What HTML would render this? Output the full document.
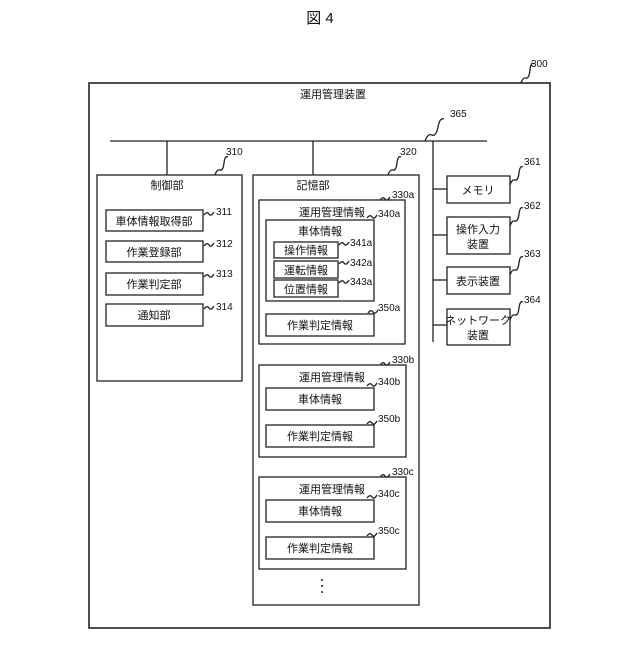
<!DOCTYPE html>
<html><head><meta charset="utf-8"><style>
body{margin:0;background:#fff}
svg text{font-family:"Liberation Sans","Noto Sans CJK JP",sans-serif;fill:#111}
.t{font-size:11px;text-anchor:middle}
.l{font-size:10px}
</style></head><body>
<svg width="640" height="640" viewBox="0 0 640 640" xmlns="http://www.w3.org/2000/svg">
<g fill="none" stroke="#222" stroke-width="1.3">
<rect x="89" y="83" width="461" height="545" stroke-width="1.6"/>
<line x1="110" y1="141" x2="487" y2="141"/>
<line x1="167" y1="141" x2="167" y2="175"/>
<line x1="313" y1="141" x2="313" y2="175"/>
<line x1="433" y1="141" x2="433" y2="342"/>
<line x1="433" y1="189" x2="447" y2="189"/>
<line x1="433" y1="235" x2="447" y2="235"/>
<line x1="433" y1="280" x2="447" y2="280"/>
<line x1="433" y1="325" x2="447" y2="325"/>
<rect x="97" y="175" width="145" height="206"/>
<rect x="253" y="175" width="166" height="430"/>
<rect x="106" y="210" width="97" height="21"/>
<rect x="106" y="241" width="97" height="21"/>
<rect x="106" y="273" width="97" height="22"/>
<rect x="106" y="304" width="97" height="22"/>
<rect x="447" y="176" width="63" height="27"/>
<rect x="447" y="217" width="63" height="37"/>
<rect x="447" y="267" width="63" height="27"/>
<rect x="447" y="309" width="63" height="36"/>
<rect x="259" y="200" width="146" height="144"/>
<rect x="266" y="220" width="108" height="81"/>
<rect x="274" y="242" width="64" height="16"/>
<rect x="274" y="261" width="64" height="17"/>
<rect x="274" y="280" width="64" height="17"/>
<rect x="266" y="314" width="108" height="22"/>
<rect x="259" y="365" width="147" height="92"/>
<rect x="266" y="388" width="108" height="22"/>
<rect x="266" y="425" width="108" height="22"/>
<rect x="259" y="477" width="147" height="92"/>
<rect x="266" y="500" width="108" height="22"/>
<rect x="266" y="537" width="108" height="22"/>
<!-- leaders -->
<path d="M521 83 q2-6 5-5 t4-8 t4-6"/>
<path d="M425 141 q3-8 7-6 t6-8 t6-8"/>
<path d="M215 175 q2-6 5-5 t4-7 t4-6"/>
<path d="M388 175 q2-6 5-5 t4-7 t4-6"/>
<path d="M510 185 q2-6 5-5 t4-7 t4-6"/>
<path d="M510 226 q2-6 5-5 t4-7 t4-6"/>
<path d="M510 275 q2-6 5-5 t4-7 t4-6"/>
<path d="M510 320 q2-6 5-5 t4-7 t4-6"/>
<path d="M204 215 q3-4 5-1 t5-2"/>
<path d="M204 246 q3-4 5-1 t5-2"/>
<path d="M204 277 q3-4 5-1 t5-2"/>
<path d="M204 309 q3-4 5-1 t5-2"/>
<path d="M380 200 q3-4 5-1 t5-2"/>
<path d="M367 218 q3-4 5-1 t5-2"/>
<path d="M339 245 q3-4 5-1 t5-2"/>
<path d="M339 264 q3-4 5-1 t5-2"/>
<path d="M339 283 q3-4 5-1 t5-2"/>
<path d="M368 313 q3-4 5-1 t5-2"/>
<path d="M380 365 q3-4 5-1 t5-2"/>
<path d="M367 386 q3-4 5-1 t5-2"/>
<path d="M367 424 q3-4 5-1 t5-2"/>
<path d="M380 477 q3-4 5-1 t5-2"/>
<path d="M367 498 q3-4 5-1 t5-2"/>
<path d="M367 536 q3-4 5-1 t5-2"/>
</g>
<g fill="#222"><circle cx="322" cy="580" r="1"/><circle cx="322" cy="586" r="1"/><circle cx="322" cy="592" r="1"/></g>
<text x="320" y="23" class="t" style="font-size:15px">図 4</text>
<text x="333" y="98" class="t">運用管理装置</text>
<text x="167" y="189" class="t">制御部</text>
<text x="313" y="189" class="t">記憶部</text>
<text x="154" y="225" class="t">車体情報取得部</text>
<text x="154" y="256" class="t">作業登録部</text>
<text x="154" y="288" class="t">作業判定部</text>
<text x="154" y="319" class="t">通知部</text>
<text x="478" y="194" class="t">メモリ</text>
<text x="478" y="233" class="t">操作入力</text>
<text x="478" y="248" class="t">装置</text>
<text x="478" y="285" class="t">表示装置</text>
<text x="478" y="324" class="t">ネットワーク</text>
<text x="478" y="339" class="t">装置</text>
<text x="332" y="216" class="t">運用管理情報</text>
<text x="320" y="235" class="t">車体情報</text>
<text x="306" y="254" class="t">操作情報</text>
<text x="306" y="274" class="t">運転情報</text>
<text x="306" y="293" class="t">位置情報</text>
<text x="320" y="329" class="t">作業判定情報</text>
<text x="332" y="381" class="t">運用管理情報</text>
<text x="320" y="403" class="t">車体情報</text>
<text x="320" y="440" class="t">作業判定情報</text>
<text x="332" y="493" class="t">運用管理情報</text>
<text x="320" y="515" class="t">車体情報</text>
<text x="320" y="552" class="t">作業判定情報</text>
<text x="531" y="67" class="l">300</text>
<text x="450" y="117" class="l">365</text>
<text x="226" y="155" class="l">310</text>
<text x="400" y="155" class="l">320</text>
<text x="524" y="165" class="l">361</text>
<text x="524" y="209" class="l">362</text>
<text x="524" y="257" class="l">363</text>
<text x="524" y="303" class="l">364</text>
<text x="216" y="215" class="l">311</text>
<text x="216" y="247" class="l">312</text>
<text x="216" y="277" class="l">313</text>
<text x="216" y="310" class="l">314</text>
<text x="392" y="198" class="l">330a</text>
<text x="378" y="217" class="l">340a</text>
<text x="350" y="246" class="l">341a</text>
<text x="350" y="266" class="l">342a</text>
<text x="350" y="285" class="l">343a</text>
<text x="378" y="311" class="l">350a</text>
<text x="392" y="363" class="l">330b</text>
<text x="378" y="385" class="l">340b</text>
<text x="378" y="422" class="l">350b</text>
<text x="392" y="475" class="l">330c</text>
<text x="378" y="497" class="l">340c</text>
<text x="378" y="534" class="l">350c</text>
</svg>
</body></html>
